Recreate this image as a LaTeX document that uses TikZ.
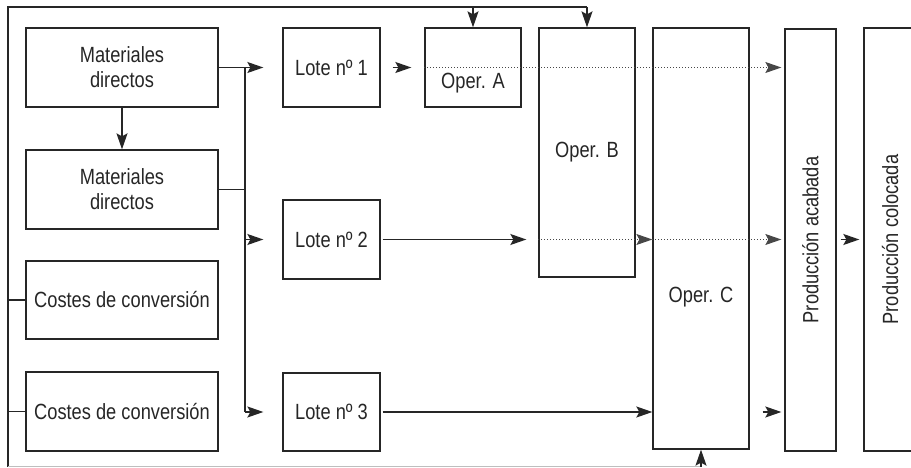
\documentclass[tikz,border=0pt]{standalone}
\usepackage{fontspec}
\setmainfont{Liberation Sans}[FakeStretch=0.83]
\usetikzlibrary{arrows.meta}
\definecolor{ink}{HTML}{262626}
\begin{document}
\begin{tikzpicture}[x=1pt,y=-1pt,
  font=\fontsize{22}{25}\selectfont,
  box/.style={draw=ink, line width=1.3pt, rectangle, inner sep=0pt, align=center, text=ink},
  conn/.style={draw=ink, line width=1.3pt},
  arrowhd/.style={-{Stealth[length=16pt,width=11pt,inset=3pt]}},
  arr/.style={conn, arrowhd},
  dot/.style={draw=ink!85, line width=1pt, dash pattern=on 1pt off 2pt, arrowhd}]
\useasboundingbox (0,0) rectangle (911,468);
\clip (0,0) rectangle (911,468);
% left column
\node[box, minimum width=192pt, minimum height=79pt] (md1) at (122,67.5) {Materiales\\directos};
\node[box, minimum width=192pt, minimum height=79pt] (md2) at (122,189.5) {Materiales\\directos};
\node[box, minimum width=192pt, minimum height=78pt] (cc1) at (122,300) {Costes de conversión};
\node[box, minimum width=192pt, minimum height=79pt] (cc2) at (122,411.5) {Costes de conversión};
% lotes
\node[box, minimum width=97pt, minimum height=79pt] (l1) at (331.5,67.5) {Lote nº 1};
\node[box, minimum width=97pt, minimum height=79pt] (l2) at (331.5,239.5) {Lote nº 2};
\node[box, minimum width=97pt, minimum height=78pt] (l3) at (331.5,412) {Lote nº 3};
% operations
\node[box, minimum width=96pt, minimum height=79pt,
      label={[text=ink, yshift=-16pt]center:Oper. A}] (opa) at (473,67.5) {};
\node[box, minimum width=96pt, minimum height=249pt] (opb) at (587,152.5) {Oper. B};
\node[box, minimum width=96pt, minimum height=421pt,
      label={[text=ink, yshift=-58.5pt]center:Oper. C}] (opc) at (701,238.5) {};
% production
\node[box, minimum width=51pt, minimum height=422pt,
      label={[text=ink, rotate=90]center:Producción acabada}] (pa) at (810.5,240) {};
\node[box, minimum width=52pt, minimum height=423pt,
      label={[text=ink, rotate=90]center:Producción colocada}] (pc) at (890,239.5) {};
% frame
\coordinate (tl) at (8,7);
\coordinate (bl) at (8,466.5);
\coordinate (bus) at (245,67.5);
\draw[conn] (bl) -- (tl) -- (tl -| opb.north);
\draw[arr] (tl -| opa.north) -- (opa.north);
\draw[arr] (tl -| opb.north) -- (opb.north);
\draw[conn] (tl |- cc1.west) -- (cc1.west);
\draw[conn] (tl |- cc2.west) -- (cc2.west);
\draw[conn, draw=ink!30] (bl) -- (bl -| opc.south);
\draw[arr] (bl -| opc.south) -- (opc.south);
% materials
\draw[arr] (md1.south) -- (md2.north);
\draw[arr, shorten >=19pt] (md1.east) -- (l1.west);
\draw[conn] (md2.east) -- (md2.east -| bus);
\draw[conn] (bus) -- (bus |- l3.west);
\draw[arr, shorten >=19pt] (bus |- l2.west) -- (l2.west);
\draw[arr, shorten >=19pt] (bus |- l3.west) -- (l3.west);
% lote 1
\draw[arr, shorten <=12pt, shorten >=13pt] (l1.east) -- (opa.west);
\draw[dot, shorten >=3pt] (opa.west) -- (opa.west -| pa.west);
% lote 2
\draw[arr, shorten <=2pt, shorten >=12pt] (l2.east) -- (l2.east -| opb.west);
\draw[dot] (l2.east -| opb.west) -- (l2.east -| opc.west);
\draw[dot, shorten >=3pt] (l2.east -| opc.west) -- (l2.east -| pa.west);
% lote 3
\draw[arr, shorten <=2pt] (l3.east) -- (l3.east -| opc.west);
\draw[arr, shorten <=13pt, shorten >=3pt] (l3.east -| opc.east) -- (l3.east -| pa.west);
% production
\draw[arr, shorten <=4pt, shorten >=4pt] (pa.east |- l2.east) -- (pc.west |- l2.east);
\end{tikzpicture}
\end{document}
